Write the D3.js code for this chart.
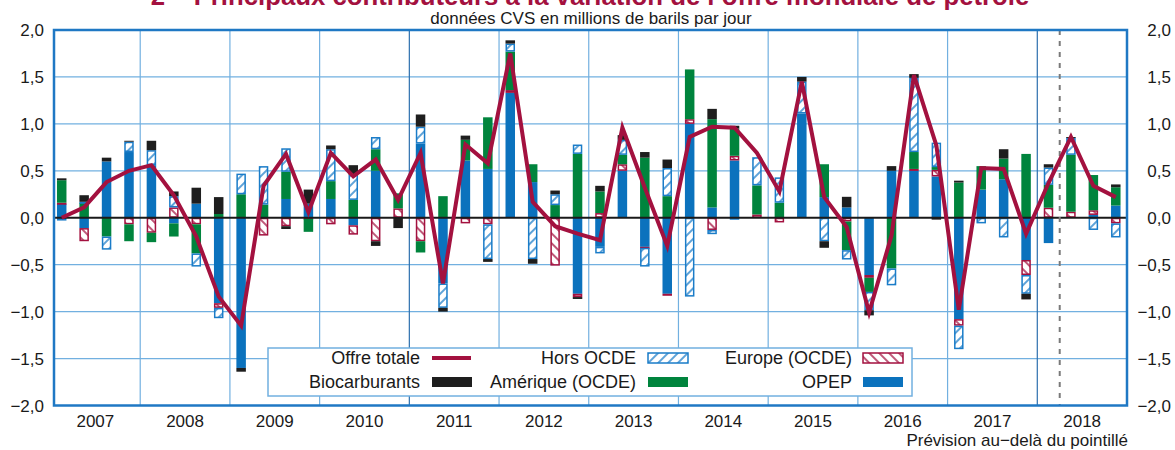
<!DOCTYPE html>
<html lang="fr">
<head>
<meta charset="UTF-8">
<title>Principaux contributeurs à la variation de l'offre mondiale de pétrole</title>
<style>
  body { margin: 0; background: #fff; }
  svg text { font-family: "Liberation Sans", Arial, Helvetica, sans-serif; fill: #1a1a1a; }
</style>
</head>
<body>
<script src="https://cdn.jsdelivr.net/npm/d3@7"></script>
<script>
// années et trimestres
var years = ['2007', '2008', '2009', '2010', '2011', '2012', '2013', '2014', '2015', '2016', '2017', '2018'];
var quarters = [];
years.forEach(function(yr) {
    for (var q = 1; q <= 4; q++) quarters.push(yr + 'T' + q);
});

// contributions en millions de barils par jour
var opep = [
    0.15, -0.11, 0.60, 0.70,
    0.56, -0.06, 0.15, -0.91,
    -1.60, 0.00, 0.20, 0.15,
    0.20, -0.08, 0.50, 0.00,
    0.79, -0.70, 0.61, 0.52,
    1.33, 0.38, 0.00, -0.81,
    -0.31, 0.50, -0.31, -0.81,
    1.00, 0.11, 0.61, 0.00,
    0.00, 1.11, 0.22, 0.11,
    -0.61, 0.50, 0.50, 0.44,
    -1.08, 0.30, 0.41, -0.45,
    -0.27, 0.00, 0.03, 0.13
];
var europe = [
    0.01, -0.14, 0.00, -0.07,
    -0.16, 0.11, -0.07, -0.05,
    0.00, -0.19, -0.09, -0.01,
    -0.07, -0.10, -0.25, 0.10,
    -0.25, 0.00, -0.06, -0.07,
    0.03, 0.00, -0.51, -0.035,
    0.05, 0.07, -0.01, -0.015,
    0.05, -0.13, 0.05, 0.035,
    -0.05, 0.00, 0.00, -0.04,
    -0.03, 0.00, 0.02, 0.07,
    -0.07, 0.00, 0.00, -0.16,
    0.107, 0.064, 0.05, -0.06
];
var amerique = [
    0.24, 0.16, -0.20, -0.18,
    -0.10, -0.14, -0.31, 0.04,
    0.25, 0.14, 0.29, -0.14,
    0.19, 0.19, 0.23, 0.16,
    -0.12, 0.23, 0.22, 0.55,
    0.41, 0.19, 0.135, 0.68,
    0.23, 0.10, 0.64, 0.23,
    0.53, 0.94, 0.29, 0.31,
    0.16, 0.00, 0.35, -0.305,
    -0.15, -0.54, 0.18, 0.03,
    0.375, 0.25, 0.22, 0.68,
    0.243, 0.606, 0.375, 0.195
];
var horsOcde = [
    -0.03, 0.01, -0.14, 0.11,
    0.16, 0.12, -0.14, -0.11,
    0.22, 0.41, 0.25, 0.00,
    0.34, 0.27, 0.13, 0.00,
    0.18, -0.26, 0.00, -0.37,
    0.085, -0.44, 0.115, 0.10,
    -0.07, 0.16, -0.20, 0.30,
    -0.84, -0.045, -0.01, 0.30,
    0.27, 0.34, -0.25, -0.10,
    -0.195, -0.18, 0.79, 0.26,
    -0.25, -0.06, -0.21, -0.20,
    0.185, 0.18, -0.13, -0.15
];
var bio = [
    0.02, 0.07, 0.04, 0.01,
    0.10, 0.05, 0.17, 0.18,
    -0.04, 0.00, -0.03, 0.15,
    0.04, 0.10, -0.05, -0.11,
    0.13, -0.04, 0.045, -0.03,
    0.035, -0.05, 0.04, -0.02,
    0.06, 0.05, 0.06, 0.09,
    0.00, 0.11, 0.03, 0.00,
    0.00, 0.05, -0.07, 0.113,
    -0.055, 0.05, 0.04, -0.02,
    0.02, 0.00, 0.10, -0.06,
    0.035, 0.01, 0.00, 0.03
];
var offreTotale = [
    0.00, 0.11, 0.38, 0.50,
    0.56, 0.24, -0.20, -0.84,
    -1.15, 0.34, 0.68, 0.06,
    0.69, 0.44, 0.62, 0.19,
    0.69, -0.70, 0.78, 0.58,
    1.75, 0.17, -0.09, -0.17,
    -0.24, 0.96, 0.32, -0.30,
    0.86, 0.97, 0.96, 0.69,
    0.28, 1.45, 0.22, -0.10,
    -1.01, -0.19, 1.52, 0.77,
    -0.98, 0.53, 0.52, -0.17,
    0.37, 0.86, 0.34, 0.22
];
var yTicks = [-2, -1.5, -1, -0.5, 0, 0.5, 1, 1.5, 2];
var forecastStart = '2018T2';

var width = 1175, height = 450;
var plot = { left: 54, right: 1127, top: 30, bottom: 405.5 };
var barW = 9.5;

var colors = {
    opep: '#0b72bd',
    amerique: '#00843d',
    bio: '#1e1e1e',
    blueHatch: '#1a7cc8',
    red: '#a3113f',
    grid: '#72b0e0',
    frame: '#1f78c4'
};

var svg = d3.select('body').append('svg').attr('width', width).attr('height', height);

// motifs hachurés
var defs = svg.append('defs');
function hatch(id, color, angle) {
    var p = defs.append('pattern')
        .attr('id', id)
        .attr('patternUnits', 'userSpaceOnUse')
        .attr('width', 7).attr('height', 7)
        .attr('patternTransform', 'rotate(' + angle + ')');
    p.append('rect').attr('width', 7).attr('height', 7).attr('fill', '#fff');
    p.append('line').attr('x1', 1).attr('y1', 0).attr('x2', 1).attr('y2', 7)
        .attr('stroke', color).attr('stroke-width', 1.4);
}
hatch('hatchBlue', colors.blueHatch, 45);
hatch('hatchRed', colors.red, -45);

var x = d3.scaleBand().domain(quarters).range([50.5, plot.right]);
var y = d3.scaleLinear().domain([-2, 2]).range([plot.bottom, plot.top]);
var step = x.step();

function fmt(v) {
    var s = Math.abs(v).toFixed(1).replace('.', ',');
    return (v < 0 ? '\u2212' : '') + s;
}

// titre (coupé en haut comme sur l'original)
var title = svg.append('text')
    .attr('x', 590).attr('y', 5)
    .attr('text-anchor', 'middle')
    .attr('font-size', 24)
    .attr('font-weight', 'bold')
    .style('fill', '#a3113f')
    .text('2 \u2013 Principaux contributeurs \u00e0 la variation de l\u2019offre mondiale de p\u00e9trole');
var tw = title.node().getComputedTextLength();
title.attr('font-size', 24 * 879 / tw);

svg.append('text')
    .attr('x', 591).attr('y', 24)
    .attr('text-anchor', 'middle')
    .attr('font-size', 17)
    .text('donn\u00e9es CVS en millions de barils par jour');

// grille
var grid = svg.append('g');
grid.selectAll('.hgrid')
    .data(yTicks.filter(function(d) { return d !== 0; }))
    .enter().append('line')
    .attr('x1', plot.left).attr('x2', plot.right)
    .attr('y1', function(d) { return y(d); })
    .attr('y2', function(d) { return y(d); })
    .attr('stroke', colors.grid).attr('stroke-width', 1.2);
grid.selectAll('.vgrid')
    .data(years.slice(1))
    .enter().append('line')
    .attr('x1', function(d) { return x(d + 'T1'); })
    .attr('x2', function(d) { return x(d + 'T1'); })
    .attr('y1', plot.top).attr('y2', plot.bottom)
    .attr('stroke', function(d) { return (d === '2011' || d === '2018') ? '#2c6fae' : colors.grid; })
    .attr('stroke-width', 1.2);

// axes y gauche et droite
svg.selectAll('.ylabL')
    .data(yTicks).enter().append('text')
    .attr('x', 44).attr('y', function(d) { return y(d) + 6; })
    .attr('text-anchor', 'end')
    .attr('font-size', 17)
    .text(fmt);
svg.selectAll('.ylabR')
    .data(yTicks).enter().append('text')
    .attr('x', 1171).attr('y', function(d) { return y(d) + 6; })
    .attr('text-anchor', 'end')
    .attr('font-size', 17)
    .text(fmt);

// années
svg.selectAll('.year')
    .data(years).enter().append('text')
    .attr('x', function(d) { return x(d + 'T1') + step * 2; })
    .attr('y', 427)
    .attr('text-anchor', 'middle')
    .attr('font-size', 17)
    .text(function(d) { return d; });

svg.append('text')
    .attr('x', 1128).attr('y', 446)
    .attr('text-anchor', 'end')
    .attr('font-size', 17)
    .text('Pr\u00e9vision au\u2212del\u00e0 du pointill\u00e9');

// barres empilées
var keys = ['opep', 'europe', 'amerique', 'horsOcde', 'bio'];
var rows = quarters.map(function(q, i) {
    return { q: q, opep: opep[i], europe: europe[i], amerique: amerique[i], horsOcde: horsOcde[i], bio: bio[i] };
});
var series = d3.stack().keys(keys).offset(d3.stackOffsetDiverging)(rows);

var style = {
    opep: { fill: colors.opep, stroke: 'none' },
    amerique: { fill: colors.amerique, stroke: 'none' },
    bio: { fill: colors.bio, stroke: 'none' },
    horsOcde: { fill: 'url(#hatchBlue)', stroke: colors.blueHatch },
    europe: { fill: 'url(#hatchRed)', stroke: colors.red }
};

var bars = svg.append('g');
series.forEach(function(s) {
    var st = style[s.key];
    var inset = st.stroke === 'none' ? 0 : 0.75;
    bars.append('g').selectAll('rect')
        .data(s.filter(function(d) { return Math.abs(d[1] - d[0]) > 0.001; }))
        .enter().append('rect')
        .attr('x', function(d) { return x(d.data.q) + (step - barW) / 2 + inset; })
        .attr('y', function(d) { return y(Math.max(d[0], d[1])) + inset; })
        .attr('width', barW - inset * 2)
        .attr('height', function(d) { return Math.max(0.5, Math.abs(y(d[0]) - y(d[1])) - inset * 2); })
        .attr('fill', st.fill)
        .attr('stroke', st.stroke)
        .attr('stroke-width', 1.5);
});

// ligne zéro
svg.append('line')
    .attr('x1', plot.left).attr('x2', plot.right)
    .attr('y1', y(0)).attr('y2', y(0))
    .attr('stroke', '#1a1a1a').attr('stroke-width', 2);

// pointillé de prévision
svg.append('line')
    .attr('x1', x(forecastStart)).attr('x2', x(forecastStart))
    .attr('y1', plot.top).attr('y2', plot.bottom)
    .attr('stroke', '#7a7a7a').attr('stroke-width', 2)
    .attr('stroke-dasharray', '5,6');

// offre totale
var line = d3.line()
    .x(function(d, i) { return x(quarters[i]) + step / 2; })
    .y(function(d) { return y(d); });
svg.append('path')
    .datum(offreTotale)
    .attr('d', line)
    .attr('fill', 'none')
    .attr('stroke', colors.red)
    .attr('stroke-width', 4)
    .attr('stroke-linejoin', 'miter');

// cadre
svg.append('rect')
    .attr('x', plot.left).attr('y', plot.top)
    .attr('width', plot.right - plot.left).attr('height', plot.bottom - plot.top)
    .attr('fill', 'none')
    .attr('stroke', colors.frame).attr('stroke-width', 2.5);

// légende
var legend = svg.append('g');
legend.append('rect')
    .attr('x', 268).attr('y', 348).attr('width', 644).attr('height', 48)
    .attr('fill', '#fff').attr('stroke', colors.grid).attr('stroke-width', 1.5);

var legendItems = [
    { label: 'Offre totale', type: 'line', tx: 420, sx: 432, row: 0 },
    { label: 'Biocarburants', key: 'bio', tx: 420, sx: 432, row: 1 },
    { label: 'Hors OCDE', key: 'horsOcde', tx: 636, sx: 648, row: 0 },
    { label: 'Am\u00e9rique (OCDE)', key: 'amerique', tx: 636, sx: 648, row: 1 },
    { label: 'Europe (OCDE)', key: 'europe', tx: 852, sx: 863, row: 0 },
    { label: 'OPEP', key: 'opep', tx: 852, sx: 863, row: 1 }
];
legendItems.forEach(function(it) {
    var cy = 358 + it.row * 24;
    legend.append('text')
        .attr('x', it.tx).attr('y', cy + 6)
        .attr('text-anchor', 'end')
        .attr('font-size', 18)
        .text(it.label);
    if (it.type === 'line') {
        legend.append('line')
            .attr('x1', it.sx).attr('x2', it.sx + 39)
            .attr('y1', cy).attr('y2', cy)
            .attr('stroke', colors.red).attr('stroke-width', 4);
    } else {
        var st = style[it.key];
        legend.append('rect')
            .attr('x', it.sx).attr('y', cy - 5)
            .attr('width', 40).attr('height', 10)
            .attr('fill', st.fill)
            .attr('stroke', st.stroke)
            .attr('stroke-width', 1.5);
    }
});
</script>
</body>
</html>
